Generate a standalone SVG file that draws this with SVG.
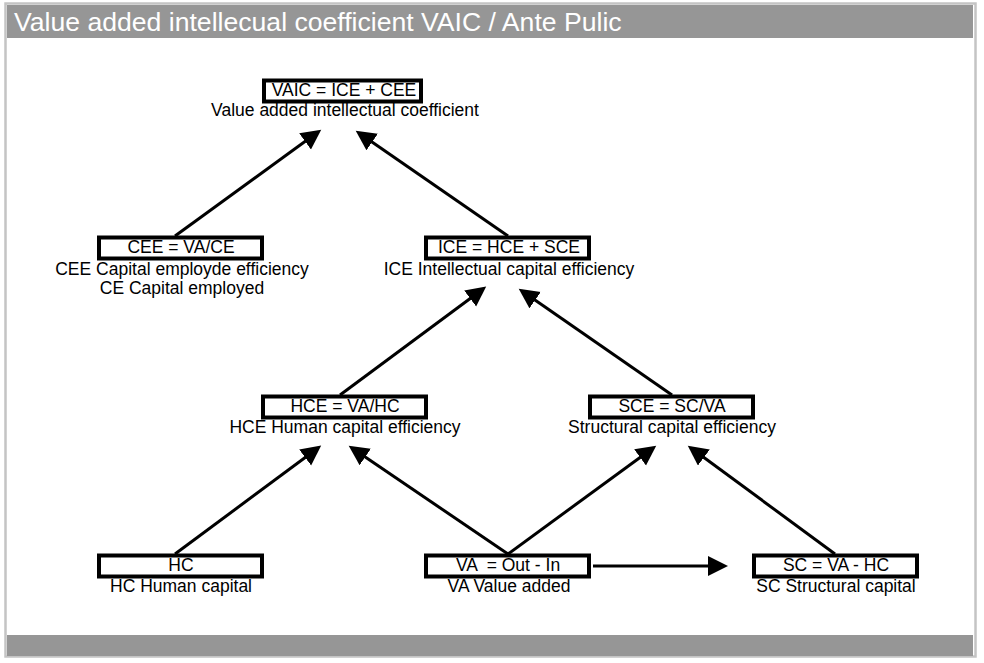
<svg xmlns="http://www.w3.org/2000/svg" width="984" height="663" viewBox="0 0 984 663">
<style>
text{font-family:"Liberation Sans",Arial,sans-serif;font-size:17.5px;fill:#000;text-anchor:middle;white-space:pre}
.title{font-size:26.6px;fill:#fff;text-anchor:start}
.box{fill:#fff;stroke:#000;stroke-width:4}
.conn{stroke:#000;stroke-width:3;fill:none;marker-end:url(#ah)}
</style>
<defs>
<marker id="ah" markerUnits="userSpaceOnUse" markerWidth="22" markerHeight="22" refX="16" refY="10" orient="auto" viewBox="0 0 22 22">
<path d="M0,0 L20,10 L0,20 z" fill="#000"/>
</marker>
</defs>
<rect x="0" y="0" width="984" height="663" fill="#fff"/>
<rect x="5.5" y="3.5" width="970" height="653" fill="#fff" stroke="#c4c4c4" stroke-width="2.5"/>
<rect x="7" y="5" width="966" height="33" fill="#969696"/>
<rect x="7" y="635" width="966" height="21" fill="#969696"/>
<text class="title" x="14" y="31">Value added intellecual coefficient VAIC / Ante Pulic</text>

<g id="connectors">
<path class="conn" d="M175,236 L318,132"/>
<path class="conn" d="M508,236 L359,133"/>
<path class="conn" d="M340,395 L483,289"/>
<path class="conn" d="M672,395 L522,291"/>
<path class="conn" d="M175,554 L318,448"/>
<path class="conn" d="M508,554 L352,448"/>
<path class="conn" d="M508,554 L653,448"/>
<path class="conn" d="M835,554 L691,448"/>
<path class="conn" d="M593,566 L724,566"/>
</g>

<g id="vaic">
<rect class="box" x="264" y="80.5" width="157" height="21"/>
<text x="344" y="96">VAIC = ICE + CEE</text>
<text x="345" y="116">Value added intellectual coefficient</text>
</g>
<g id="cee">
<rect class="box" x="99" y="237.5" width="163" height="21"/>
<text x="181" y="253">CEE = VA/CE</text>
<text x="182" y="275">CEE Capital employde efficiency</text>
<text x="182" y="294">CE Capital employed</text>
</g>
<g id="ice">
<rect class="box" x="426" y="237.5" width="163" height="21"/>
<text x="509" y="253">ICE = HCE + SCE</text>
<text x="509" y="275">ICE Intellectual capital efficiency</text>
</g>
<g id="hce">
<rect class="box" x="263" y="396.5" width="163" height="21"/>
<text x="345" y="412">HCE = VA/HC</text>
<text x="345" y="433">HCE Human capital efficiency</text>
</g>
<g id="sce">
<rect class="box" x="590" y="396.5" width="163" height="21"/>
<text x="672" y="412">SCE = SC/VA</text>
<text x="672" y="433">Structural capital efficiency</text>
</g>
<g id="hc">
<rect class="box" x="99" y="555.5" width="163" height="21"/>
<text x="181" y="571">HC</text>
<text x="181" y="592">HC Human capital</text>
</g>
<g id="va">
<rect class="box" x="426" y="555.5" width="163" height="21"/>
<text x="508" y="571">VA  = Out - In</text>
<text x="509" y="592">VA Value added</text>
</g>
<g id="sc">
<rect class="box" x="754" y="555.5" width="163" height="21"/>
<text x="836" y="571">SC = VA - HC</text>
<text x="836" y="592">SC Structural capital</text>
</g>
</svg>
